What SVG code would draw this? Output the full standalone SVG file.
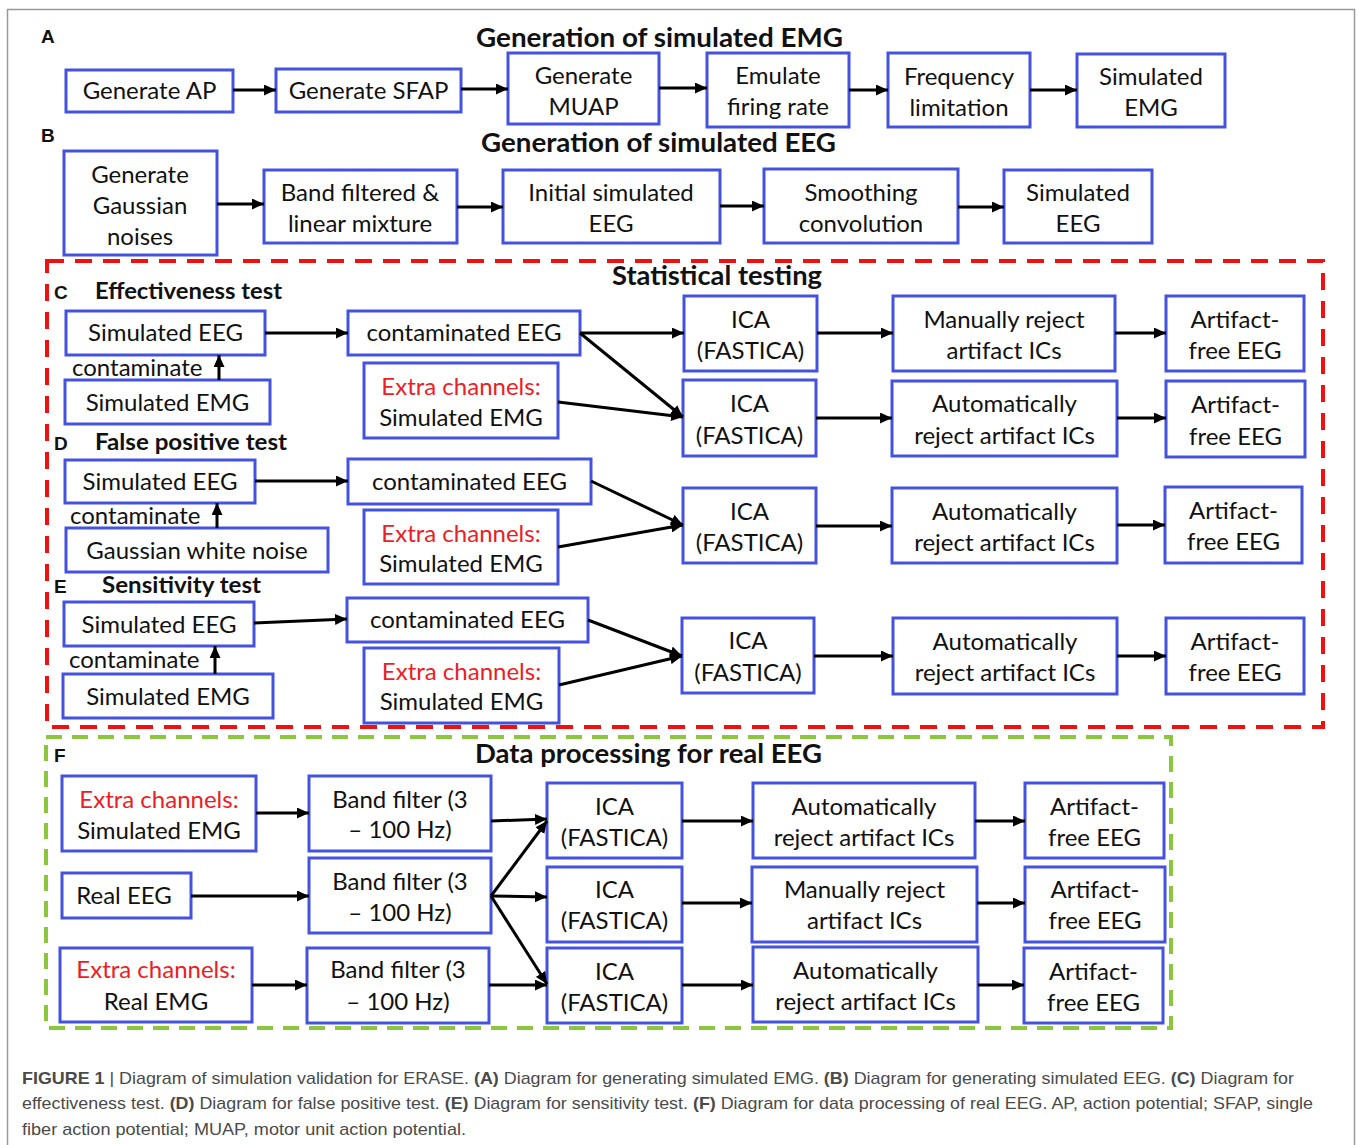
<svg xmlns="http://www.w3.org/2000/svg" width="1358" height="1145" viewBox="0 0 1358 1145">
<defs>
<marker id="ah" markerUnits="userSpaceOnUse" markerWidth="12" markerHeight="11" refX="12" refY="5.5" orient="auto">
<path d="M0,0 L12,5.5 L0,11 z" fill="#000"/>
</marker>
<style>
.box{fill:#fff;stroke:#4452e0;stroke-width:3}
.t{font-family:Lato,"Open Sans",sans-serif;font-size:24px;fill:#111;text-anchor:middle}
.tl{font-family:Lato,"Open Sans",sans-serif;font-size:24px;fill:#111}
.red{fill:#ee1c24}
.title{font-family:Lato,"Open Sans",sans-serif;font-weight:700;font-size:27px;fill:#111}
.sub{font-family:Lato,"Open Sans",sans-serif;font-weight:700;font-size:23px;fill:#111}
.lab{font-family:"Liberation Sans",Arial,sans-serif;font-weight:700;font-size:19px;fill:#111}
.conn line{stroke:#000;stroke-width:3;marker-end:url(#ah)}
.cap{font-family:"Liberation Sans",Arial,sans-serif;font-size:17px;fill:#4a4a4a}
.capb{font-weight:700}
.frame{fill:none;stroke:#999;stroke-width:1.5}
.reddash{fill:none;stroke:#f01010;stroke-width:4;stroke-dasharray:17 11}
.greendash{fill:none;stroke:#8cc63e;stroke-width:4;stroke-dasharray:16 10}
</style>
</defs>
<rect class="frame" x="7.5" y="9.5" width="1347" height="1150"/>
<rect class="reddash" x="47" y="261" width="1276" height="466"/>
<rect class="greendash" x="46" y="737" width="1125" height="291"/>

<!-- labels and titles -->
<g id="labels">
<text class="lab" x="41" y="43">A</text>
<text class="lab" x="41" y="142">B</text>
<text class="lab" x="54" y="299">C</text>
<text class="lab" x="54" y="450">D</text>
<text class="lab" x="54" y="593">E</text>
<text class="lab" x="54" y="762">F</text>
<text class="title" x="476" y="47" textLength="367" lengthAdjust="spacingAndGlyphs">Generation of simulated EMG</text>
<text class="title" x="481" y="152" textLength="355" lengthAdjust="spacingAndGlyphs">Generation of simulated EEG</text>
<text class="title" x="612" y="285" textLength="210" lengthAdjust="spacingAndGlyphs">Statistical testing</text>
<text class="title" x="475" y="763" textLength="347" lengthAdjust="spacingAndGlyphs">Data processing for real EEG</text>
<text class="sub" x="95" y="299" textLength="187" lengthAdjust="spacingAndGlyphs">Effectiveness test</text>
<text class="sub" x="95" y="450" textLength="192" lengthAdjust="spacingAndGlyphs">False positive test</text>
<text class="sub" x="102" y="593" textLength="159" lengthAdjust="spacingAndGlyphs">Sensitivity test</text>
<text class="tl" x="72" y="376">contaminate</text>
<text class="tl" x="70" y="524">contaminate</text>
<text class="tl" x="69" y="668">contaminate</text>
</g>

<!-- A -->
<g id="gen_ap"><rect class="box" x="66" y="70" width="167" height="42"/><text class="t" x="149.5" y="99">Generate AP</text></g>
<g id="gen_sfap"><rect class="box" x="276" y="69" width="185" height="43"/><text class="t" x="368.5" y="99">Generate SFAP</text></g>
<g id="gen_muap"><rect class="box" x="508" y="53" width="151" height="71"/><text class="t" x="583.5" y="84">Generate</text><text class="t" x="583.5" y="115">MUAP</text></g>
<g id="emulate"><rect class="box" x="707" y="53" width="142" height="74"/><text class="t" x="778" y="84">Emulate</text><text class="t" x="778" y="115">firing rate</text></g>
<g id="freq"><rect class="box" x="888" y="53" width="142" height="74"/><text class="t" x="959" y="85">Frequency</text><text class="t" x="959" y="116">limitation</text></g>
<g id="sim_emg_a"><rect class="box" x="1077" y="54" width="148" height="73"/><text class="t" x="1151" y="85">Simulated</text><text class="t" x="1151" y="116">EMG</text></g>

<!-- B -->
<g id="gen_gauss"><rect class="box" x="64" y="151" width="153" height="104"/><text class="t" x="140" y="183">Generate</text><text class="t" x="140" y="214">Gaussian</text><text class="t" x="140" y="245">noises</text></g>
<g id="band_mix"><rect class="box" x="264" y="170" width="193" height="73"/><text class="t" x="360" y="201">Band filtered &amp;</text><text class="t" x="360" y="232">linear mixture</text></g>
<g id="init_eeg"><rect class="box" x="503" y="170" width="217" height="73"/><text class="t" x="611" y="201">Initial simulated</text><text class="t" x="611" y="232">EEG</text></g>
<g id="smooth"><rect class="box" x="764" y="169" width="194" height="74"/><text class="t" x="861" y="201">Smoothing</text><text class="t" x="861" y="232">convolution</text></g>
<g id="sim_eeg_b"><rect class="box" x="1004" y="170" width="148" height="73"/><text class="t" x="1078" y="201">Simulated</text><text class="t" x="1078" y="232">EEG</text></g>

<!-- C -->
<g id="c_sim_eeg"><rect class="box" x="66" y="311" width="199" height="44"/><text class="t" x="165.5" y="341">Simulated EEG</text></g>
<g id="c_sim_emg"><rect class="box" x="65" y="380" width="205" height="44"/><text class="t" x="167.5" y="411">Simulated EMG</text></g>
<g id="c_cont"><rect class="box" x="348" y="311" width="232" height="44"/><text class="t" x="464" y="341">contaminated EEG</text></g>
<g id="c_extra"><rect class="box" x="364" y="363" width="194" height="75"/><text class="t red" x="461" y="395">Extra channels:</text><text class="t" x="461" y="426">Simulated EMG</text></g>
<g id="c_ica1"><rect class="box" x="684" y="296" width="133" height="75"/><text class="t" x="750.5" y="328">ICA</text><text class="t" x="750.5" y="359">(FASTICA)</text></g>
<g id="c_ica2"><rect class="box" x="683" y="380" width="133" height="76"/><text class="t" x="749.5" y="412">ICA</text><text class="t" x="749.5" y="444">(FASTICA)</text></g>
<g id="c_manual"><rect class="box" x="893" y="296" width="222" height="75"/><text class="t" x="1004" y="328">Manually reject</text><text class="t" x="1004" y="359">artifact ICs</text></g>
<g id="c_auto"><rect class="box" x="892" y="381" width="225" height="75"/><text class="t" x="1004.5" y="412">Automatically</text><text class="t" x="1004.5" y="444">reject artifact ICs</text></g>
<g id="c_art1"><rect class="box" x="1166" y="296" width="138" height="75"/><text class="t" x="1235" y="328">Artifact-</text><text class="t" x="1235" y="359">free EEG</text></g>
<g id="c_art2"><rect class="box" x="1166" y="381" width="139" height="76"/><text class="t" x="1235.5" y="413">Artifact-</text><text class="t" x="1235.5" y="445">free EEG</text></g>

<!-- D -->
<g id="d_sim_eeg"><rect class="box" x="65" y="460" width="190" height="43"/><text class="t" x="160" y="490">Simulated EEG</text></g>
<g id="d_noise"><rect class="box" x="66" y="528" width="262" height="44"/><text class="t" x="197" y="559">Gaussian white noise</text></g>
<g id="d_cont"><rect class="box" x="348" y="459" width="243" height="45"/><text class="t" x="469.5" y="490">contaminated EEG</text></g>
<g id="d_extra"><rect class="box" x="364" y="510" width="194" height="74"/><text class="t red" x="461" y="542">Extra channels:</text><text class="t" x="461" y="572">Simulated EMG</text></g>
<g id="d_ica"><rect class="box" x="683" y="488" width="133" height="75"/><text class="t" x="749.5" y="520">ICA</text><text class="t" x="749.5" y="551">(FASTICA)</text></g>
<g id="d_auto"><rect class="box" x="892" y="488" width="225" height="75"/><text class="t" x="1004.5" y="520">Automatically</text><text class="t" x="1004.5" y="551">reject artifact ICs</text></g>
<g id="d_art"><rect class="box" x="1165" y="487" width="137" height="76"/><text class="t" x="1233.5" y="519">Artifact-</text><text class="t" x="1233.5" y="550">free EEG</text></g>

<!-- E -->
<g id="e_sim_eeg"><rect class="box" x="64" y="602" width="190" height="44"/><text class="t" x="159" y="633">Simulated EEG</text></g>
<g id="e_sim_emg"><rect class="box" x="63" y="674" width="210" height="44"/><text class="t" x="168" y="705">Simulated EMG</text></g>
<g id="e_cont"><rect class="box" x="347" y="598" width="241" height="44"/><text class="t" x="467.5" y="628">contaminated EEG</text></g>
<g id="e_extra"><rect class="box" x="364" y="648" width="195" height="75"/><text class="t red" x="461.5" y="680">Extra channels:</text><text class="t" x="461.5" y="710">Simulated EMG</text></g>
<g id="e_ica"><rect class="box" x="682" y="618" width="132" height="75"/><text class="t" x="748" y="649">ICA</text><text class="t" x="748" y="681">(FASTICA)</text></g>
<g id="e_auto"><rect class="box" x="893" y="618" width="224" height="76"/><text class="t" x="1005" y="650">Automatically</text><text class="t" x="1005" y="681">reject artifact ICs</text></g>
<g id="e_art"><rect class="box" x="1166" y="618" width="138" height="76"/><text class="t" x="1235" y="650">Artifact-</text><text class="t" x="1235" y="681">free EEG</text></g>

<!-- F -->
<g id="f_extra1"><rect class="box" x="62" y="776" width="194" height="75"/><text class="t red" x="159" y="808">Extra channels:</text><text class="t" x="159" y="839">Simulated EMG</text></g>
<g id="f_band1"><rect class="box" x="309" y="776" width="182" height="75"/><text class="t" x="400" y="808">Band filter (3</text><text class="t" x="400" y="838">– 100 Hz)</text></g>
<g id="f_real_eeg"><rect class="box" x="62" y="873" width="129" height="45"/><text class="t" x="124" y="904">Real EEG</text></g>
<g id="f_band2"><rect class="box" x="309" y="858" width="182" height="75"/><text class="t" x="400" y="890">Band filter (3</text><text class="t" x="400" y="921">– 100 Hz)</text></g>
<g id="f_extra3"><rect class="box" x="60" y="948" width="192" height="74"/><text class="t red" x="156" y="978">Extra channels:</text><text class="t" x="156" y="1010">Real EMG</text></g>
<g id="f_band3"><rect class="box" x="307" y="948" width="182" height="75"/><text class="t" x="398" y="978">Band filter (3</text><text class="t" x="398" y="1010">– 100 Hz)</text></g>
<g id="f_ica1"><rect class="box" x="547" y="783" width="135" height="75"/><text class="t" x="614.5" y="815">ICA</text><text class="t" x="614.5" y="846">(FASTICA)</text></g>
<g id="f_ica2"><rect class="box" x="547" y="867" width="135" height="75"/><text class="t" x="614.5" y="898">ICA</text><text class="t" x="614.5" y="929">(FASTICA)</text></g>
<g id="f_ica3"><rect class="box" x="547" y="948" width="135" height="75"/><text class="t" x="614.5" y="980">ICA</text><text class="t" x="614.5" y="1011">(FASTICA)</text></g>
<g id="f_auto1"><rect class="box" x="753" y="783" width="222" height="75"/><text class="t" x="864" y="815">Automatically</text><text class="t" x="864" y="846">reject artifact ICs</text></g>
<g id="f_manual"><rect class="box" x="752" y="867" width="225" height="75"/><text class="t" x="864.5" y="898">Manually reject</text><text class="t" x="864.5" y="929">artifact ICs</text></g>
<g id="f_auto3"><rect class="box" x="753" y="947" width="225" height="75"/><text class="t" x="865.5" y="979">Automatically</text><text class="t" x="865.5" y="1010">reject artifact ICs</text></g>
<g id="f_art1"><rect class="box" x="1025" y="783" width="139" height="75"/><text class="t" x="1094.5" y="815">Artifact-</text><text class="t" x="1094.5" y="846">free EEG</text></g>
<g id="f_art2"><rect class="box" x="1025" y="867" width="140" height="75"/><text class="t" x="1095" y="898">Artifact-</text><text class="t" x="1095" y="929">free EEG</text></g>
<g id="f_art3"><rect class="box" x="1024" y="948" width="139" height="75"/><text class="t" x="1093.5" y="980">Artifact-</text><text class="t" x="1093.5" y="1011">free EEG</text></g>

<!-- connectors -->
<g id="connectors" class="conn">
<line x1="233" y1="90" x2="276" y2="90"/>
<line x1="461" y1="89" x2="508" y2="89"/>
<line x1="659" y1="88" x2="707" y2="88"/>
<line x1="849" y1="90" x2="888" y2="90"/>
<line x1="1030" y1="90" x2="1077" y2="90"/>
<line x1="217" y1="204" x2="264" y2="204"/>
<line x1="457" y1="207" x2="503" y2="207"/>
<line x1="720" y1="206" x2="764" y2="206"/>
<line x1="958" y1="207" x2="1004" y2="207"/>
<!-- C -->
<line x1="219" y1="380" x2="219" y2="355"/>
<line x1="265" y1="333" x2="348" y2="333"/>
<line x1="580" y1="333" x2="684" y2="333"/>
<line x1="580" y1="333" x2="683" y2="417"/>
<line x1="558" y1="402" x2="683" y2="417"/>
<line x1="817" y1="333" x2="893" y2="333"/>
<line x1="1115" y1="333" x2="1166" y2="333"/>
<line x1="816" y1="418" x2="892" y2="418"/>
<line x1="1117" y1="418" x2="1166" y2="418"/>
<!-- D -->
<line x1="217" y1="528" x2="217" y2="503"/>
<line x1="255" y1="481" x2="348" y2="481"/>
<line x1="591" y1="481" x2="683" y2="525"/>
<line x1="558" y1="547" x2="683" y2="525"/>
<line x1="816" y1="526" x2="892" y2="526"/>
<line x1="1117" y1="525" x2="1165" y2="525"/>
<!-- E -->
<line x1="215" y1="674" x2="215" y2="646"/>
<line x1="254" y1="623" x2="347" y2="619"/>
<line x1="588" y1="620" x2="682" y2="656"/>
<line x1="559" y1="685" x2="682" y2="656"/>
<line x1="814" y1="656" x2="893" y2="656"/>
<line x1="1117" y1="656" x2="1166" y2="656"/>
<!-- F -->
<line x1="256" y1="813" x2="309" y2="813"/>
<line x1="191" y1="896" x2="309" y2="896"/>
<line x1="252" y1="985" x2="307" y2="985"/>
<line x1="491" y1="821" x2="547" y2="819"/>
<line x1="491" y1="896" x2="547" y2="821"/>
<line x1="491" y1="896" x2="547" y2="897"/>
<line x1="491" y1="896" x2="547" y2="984"/>
<line x1="489" y1="985" x2="547" y2="985"/>
<line x1="682" y1="821" x2="753" y2="821"/>
<line x1="975" y1="821" x2="1025" y2="821"/>
<line x1="682" y1="903" x2="752" y2="903"/>
<line x1="977" y1="903" x2="1025" y2="903"/>
<line x1="682" y1="985" x2="753" y2="985"/>
<line x1="978" y1="985" x2="1024" y2="985"/>
</g>

<!-- caption -->
<g id="caption">
<text class="cap" x="22" y="1084" textLength="1272" lengthAdjust="spacingAndGlyphs"><tspan class="capb">FIGURE 1</tspan> | Diagram of simulation validation for ERASE. <tspan class="capb">(A)</tspan> Diagram for generating simulated EMG. <tspan class="capb">(B)</tspan> Diagram for generating simulated EEG. <tspan class="capb">(C)</tspan> Diagram for</text>
<text class="cap" x="22" y="1109" textLength="1291" lengthAdjust="spacingAndGlyphs">effectiveness test. <tspan class="capb">(D)</tspan> Diagram for false positive test. <tspan class="capb">(E)</tspan> Diagram for sensitivity test. <tspan class="capb">(F)</tspan> Diagram for data processing of real EEG. AP, action potential; SFAP, single</text>
<text class="cap" x="22" y="1135" textLength="444" lengthAdjust="spacingAndGlyphs">fiber action potential; MUAP, motor unit action potential.</text>
</g>
</svg>
